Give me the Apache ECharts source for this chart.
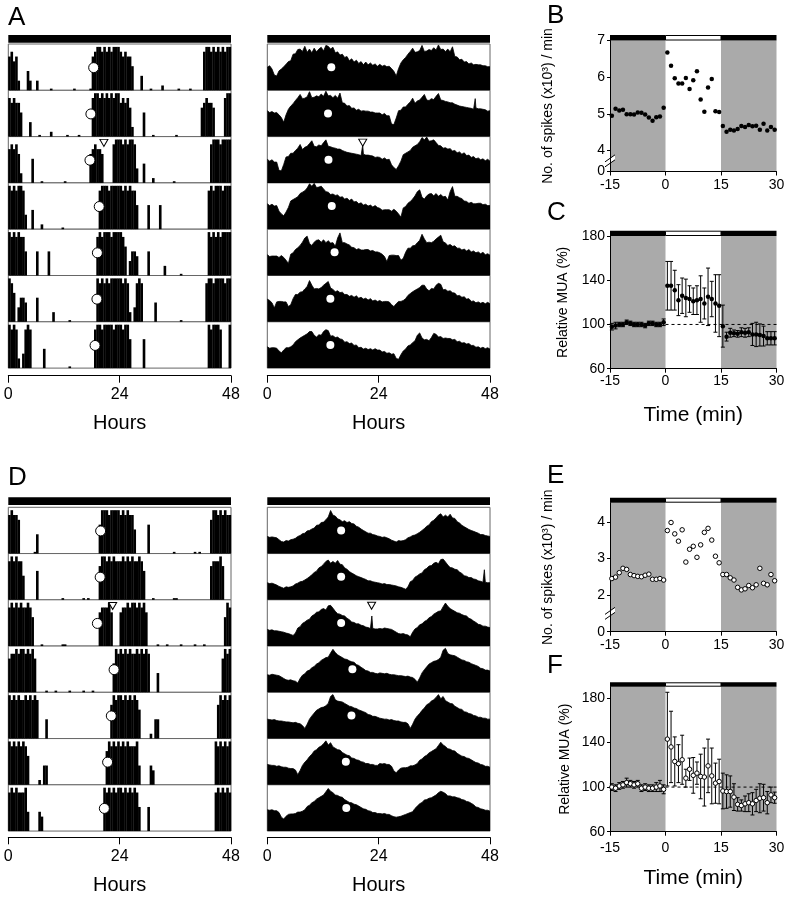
<!DOCTYPE html>
<html>
<head>
<meta charset="utf-8">
<script src="https://cdn.jsdelivr.net/npm/echarts@6.0.0/dist/echarts.min.js"></script>
<style>
html,body{margin:0;padding:0;background:#fff;}
#chart{width:789px;height:899px;}
</style>
</head>
<body>
<div id="chart"></div>
<script>
// ======================= DATA =======================
const hourTicks = [0, 24, 48];
const minuteTicks = [-15, 0, 15, 30];
const actogramLight = [[0, 48, 'dark']];
const pulseLight = [[-15, 0, 'dark'], [0, 15, 'light'], [15, 30, 'dark']];
const darkShade = [[-15, 0], [15, 30]];
const minutes = [-14.5,-13.5,-12.5,-11.5,-10.5,-9.5,-8.5,-7.5,-6.5,-5.5,-4.5,-3.5,-2.5,-1.5,-0.5,
  0.5,1.5,2.5,3.5,4.5,5.5,6.5,7.5,8.5,9.5,10.5,11.5,12.5,13.5,14.5,
  15.5,16.5,17.5,18.5,19.5,20.5,21.5,22.5,23.5,24.5,25.5,26.5,27.5,28.5,29.5];

// Panel B: spikes (x10^3)/min
const spikesB = [4.95,5.14,5.09,5.11,4.99,4.99,4.98,5.04,5.03,4.98,4.90,4.81,4.91,4.93,5.17,
  6.67,6.31,5.97,5.83,5.83,5.98,5.68,5.92,6.16,5.39,5.06,5.72,5.95,5.07,5.05,
  4.67,4.51,4.57,4.55,4.59,4.67,4.64,4.70,4.66,4.68,4.57,4.73,4.55,4.64,4.57];
// Panel C: relative MUA mean / error
const muaMeanC = [98,99,100,100,102,101,100,100,100,99,101,101,100,100,102,
  135,135,131,122,126,124,123,121,122,123,119,125,123,119,117,
  98.5,89,92.5,92,91.5,93,92.5,93,91,91,90.5,89.5,87.5,87.5,87.5];
const muaErrC = [3,3,2,2,2,2,2,2,2,2,2,2,2,2,3,
  22,22,18,14,16,17,12,12,13,21,14,26,16,26,28,
  19,4,4,3,3,4,4,4,10,11,10,9,6,6,6];
// Panel E
const spikesE = [2.45,2.49,2.61,2.73,2.70,2.56,2.53,2.51,2.50,2.54,2.57,2.43,2.43,2.45,2.41,
  3.76,3.98,3.67,3.47,3.78,2.90,3.25,3.33,3.03,3.37,3.71,3.82,3.50,3.06,2.88,
  2.56,2.56,2.47,2.41,2.21,2.14,2.17,2.26,2.20,2.28,2.73,2.32,2.28,2.56,2.39];
// Panel F
const muaMeanF = [100,99,101,102,104,103,102,103,99,100,99,99,100,101,98,
  143,136,123,121,124.5,108,116,110.5,112.5,109.5,109,119,110,103.5,105,
  96.5,96,96,91,84.5,83.5,85,86,85,88,90,90.5,86,93,90.5];
const muaErrF = [3,3,3,3,4,3,3,3,3,3,3,3,4,5,4,
  42,32,22,17,22,8,10,16,10,20,26,24,25,18,20,
  16,15,14,12,6,5,7,8,10,10,13,12,10,7,5];
const refLevel = 100;
const refSpan = [0, 30];

// Locomotor activity, 30-min bins per day (digit = level, 9 = max, '.' = trace)
const locoA = [
  "786720 004200 200000 .00000 0000.0 00000. 789989 898999",
  "878775 000300 0.0000 100000 0.0000 .00000 899898 989899",
  "787862 000050 00.000 000000 .00000 000006 787760 000899",
  "989899 830040 001000 00000. 000000 000000 000899 989999",
  "989898 850000 500005 000000 000000 000000 008989 998999",
  "986035 540000 500000 020000 00.000 000000 009898 989999",
  "989820 389800 000400 000000 00.000 000000 089989 999899",
  "989960 000060 000000 000000 000000 000000 009899 980009"
];
const locoA_onset = [18.4, 17.8, 17.6, 19.6, 19.2, 19.1, 18.7];
const pulseA = {row: 2, hour: 20.6};

const locoD = [
  "898870 00000. 400000 000000 000000 000000 000699 989999",
  "898988 500000 600000 00000. 000000 00.0.0 000799 898988",
  "898989 889860 00.000 00000. .00000 000000 000788 897000",
  "788989 989897 0000.0 00.000 00.000 00.000 .00000 000698",
  "989898 898989 800040 000000 000000 000000 000000 007989",
  "989898 986000 010440 000000 000000 000000 000000 798989",
  "898988 894000 043000 000000 000000 000000 000009 898989",
  "989898 985000 500000 000000 000000 000000 000008 989898"
];
const locoD_onset = [19.9, 19.8, 19.2, 22.8, 22.2, 21.4, 20.7];
const pulseD = {row: 2, hour: 22.5};

// SCN multi-unit activity, 30-min bins per day (% of row height)
const muaA = [
  [50,53,46,33,31,42, 46,51,56,62,64,78, 79,88,89,84,95,82, 89,81,91,83,89,93, 85,97,95,89,93,81, 83,76,78,71,73,64, 68,61,65,58,62,55, 61,55,59,54,57,52],
  [56,52,54,51,52,47, 41,31,47,59,66,71, 78,84,91,82,83,86, 97,84,85,88,86,92, 87,98,88,89,84,89, 83,94,73,72,66,67, 61,62,57,59,55,56, 55,55,53,53,51,51],
  [51,47,50,45,45,27, 26,40,56,57,64,64, 70,75,83,72,77,79, 85,91,79,78,82,80, 87,93,79,78,76,75, 73,73,70,68,66,65, 64,63,62,61,59,62, 60,60,59,58,55,56],
  [55,51,54,50,51,39, 33,29,37,47,61,64, 67,70,77,80,83,89, 98,93,99,90,91,93, 87,81,80,75,76,73, 74,69,70,65,67,62, 65,59,60,55,57,52, 54,50,52,48,51,47],
  [45,41,42,42,42,39, 43,39,33,26,46,49, 56,60,65,72,81,85, 69,65,72,76,77,72, 77,71,75,70,71,63, 81,92,71,71,68,66, 61,60,56,58,55,55, 56,56,53,54,51,51],
  [49,46,41,30,43,44, 44,43,43,33,37,50, 59,59,64,65,71,76, 89,79,71,72,71,74, 79,83,87,73,70,65, 67,63,64,59,59,55, 57,53,56,51,53,49, 51,47,50,45,47,44],
  [46,43,44,44,43,37, 33,39,44,44,46,50, 57,61,65,68,71,74, 79,79,71,67,72,71, 79,83,81,69,70,66, 67,63,62,56,57,53, 54,49,50,44,45,41, 43,40,42,39,42,39],
  [39,35,36,32,33,30, 31,21,19,29,37,41, 48,50,55,59,71,76, 65,61,62,59,66,75, 73,67,68,64,65,64, 64,61,62,57,58,54, 55,52,53,49,49,45, 46,43,45,42,44,41]
];
const muaA_onset = [13.9, 13.2, 13.3, 14.0, 14.6, 13.7, 13.7];
const muaA_spike = {day: 2, hour: 20.6, level: 82};

const muaD = [
  [37,35,36,35,34,30, 26,25,28,27,30,31, 33,37,39,43,44,49, 50,53,55,61,62,67, 68,73,79,93,83,81, 75,73,69,71,67,69, 65,64,59,57,53,50, 47,44,44,41,40,38],
  [37,35,36,34,32,29, 27,25,28,27,28,30, 34,36,39,40,43,46, 50,54,59,62,69,72, 77,83,86,79,83,79, 85,77,76,69,66,61, 58,55,52,50,48,46, 44,41,41,39,38,37],
  [36,34,35,33,33,32, 31,30,28,27,25,23, 28,39,42,49,52,56, 58,65,68,73,74,79, 81,78,87,88,82,75, 70,69,66,65,60,57, 52,51,48,48,45,44, 41,40,38,38,37,37],
  [38,37,39,38,37,36, 33,30,27,26,27,25, 24,20,30,37,40,46, 48,53,56,61,64,69, 72,75,76,85,93,86, 81,78,75,72,71,68, 66,65,60,58,54,51, 47,46,43,43,41,40],
  [42,41,40,41,39,38, 38,37,36,36,35,34, 35,33,32,28,22,31, 42,49,55,61,64,67, 68,71,76,91,95,84, 81,80,79,76,73,70, 69,66,65,62,60,58, 56,52,51,48,48,46],
  [44,43,42,42,40,41, 39,38,38,36,35,35, 32,22,31,42,49,54, 61,66,73,76,81,84, 89,95,86,91,82,79, 76,75,70,67,64,63, 58,57,54,53,50,49, 46,46,44,44,42,42],
  [46,45,46,44,44,40, 30,26,32,36,37,37, 38,41,41,43,46,53, 56,61,64,69,72,75, 78,85,92,86,83,78, 77,74,73,68,65,62, 61,58,57,54,51,48, 47,44,43,40,40,38],
  [38,37,38,36,36,33, 31,30,31,32,34,36, 38,40,42,49,54,59, 62,67,68,71,72,75, 78,83,86,84,81,76, 76,74,74,72,71,68, 67,64,63,60,57,52, 51,48,47,45,45,43]
];
const muaD_onset = [16.0, 16.0, 16.0, 18.4, 18.2, 17.0, 17.1];
const muaD_spike = {day: 2, hour: 22.55, level: 65};

// ======================= BUILD =======================
const FONT = '"Liberation Sans", Arial, Helvetica, sans-serif';
const BIN_H = 0.5; // hours per bin
const grid = [], xAxis = [], yAxis = [], series = [];
const addGrid = g => { grid.push(g); return grid.length - 1; };
const addX = a => { xAxis.push(Object.assign({show: false}, a)); return xAxis.length - 1; };
const addY = a => { yAxis.push(Object.assign({show: false}, a)); return yAxis.length - 1; };

function parseLoco(s) {
  const t = s.replace(/\s/g, '');
  if (t.length !== 48) throw new Error('locomotor day length ' + t.length + ': ' + s);
  return t.split('').map(c => c === '.' ? 0.35 : Number(c));
}
function muaPoints(day, dayIndex, offset, spike) {
  if (day.length !== 48) throw new Error('mua day length ' + day.length);
  const pts = [];
  day.forEach((v, i) => {
    const x = i * BIN_H + BIN_H / 2;
    pts.push([offset + x, v]);
    if (spike && spike.day === dayIndex && spike.hour > x && spike.hour < x + BIN_H) {
      pts.push([offset + spike.hour, spike.level]);
    }
  });
  return pts;
}

function lightBar(left, width, top, height, xmin, xmax, schedule) {
  const g = addGrid({left, width, top, height});
  const xi = addX({gridIndex: g, type: 'value', min: xmin, max: xmax});
  const yi = addY({gridIndex: g, type: 'value', min: 0, max: 1});
  series.push({
    type: 'custom', xAxisIndex: xi, yAxisIndex: yi, silent: true, z: 3, clip: false,
    data: schedule.map(s => [s[0], s[1], s[2] === 'dark' ? 1 : 0]),
    renderItem: (p, api) => {
      const a = api.coord([api.value(0), 1]);
      const b = api.coord([api.value(1), 0]);
      if (api.value(2) === 1) {
        return {type: 'rect', shape: {x: a[0], y: a[1], width: b[0] - a[0], height: b[1] - a[1]}, style: {fill: '#000'}};
      }
      return {type: 'rect', shape: {x: a[0], y: a[1] + 0.5, width: b[0] - a[0], height: b[1] - a[1] - 1},
              style: {fill: '#fff', stroke: '#000', lineWidth: 1}};
    }
  });
}

function hourAxis(left, width, axisY) {
  const g = addGrid({left, width, top: axisY - 1, height: 1});
  addX({gridIndex: g, type: 'value', min: hourTicks[0], max: hourTicks[2], interval: hourTicks[1] - hourTicks[0], show: true,
    position: 'bottom',
    axisLine: {show: true, lineStyle: {color: '#000', width: 1}},
    axisTick: {show: true, length: 7, lineStyle: {color: '#000', width: 1}},
    axisLabel: {color: '#000', fontSize: 16, fontFamily: FONT, margin: 11},
    splitLine: {show: false},
    name: 'Hours', nameLocation: 'middle', nameGap: 38,
    nameTextStyle: {color: '#000', fontSize: 20, fontFamily: FONT}});
  addY({gridIndex: g, type: 'value', min: 0, max: 1});
}

function locoActogram(left, width, top, rowH, days, onsets, pulse) {
  for (let r = 0; r < 7; r++) {
    const g = addGrid({left, width, top: top + r * rowH, height: rowH, show: true,
      borderColor: '#666', borderWidth: 1, backgroundColor: '#fff'});
    const xv = addX({gridIndex: g, type: 'value', min: 0, max: 48});
    const yi = addY({gridIndex: g, type: 'value', min: 0, max: 9.6});
    const vals = parseLoco(days[r]).concat(parseLoco(days[r + 1]));
    const binData = [];
    vals.forEach((v, i) => { if (v > 0) binData.push([i * BIN_H, (i + 1) * BIN_H, v]); });
    series.push({type: 'custom', xAxisIndex: xv, yAxisIndex: yi, data: binData, silent: true, z: 2,
      encode: {x: [0, 1], y: 2},
      renderItem: (p, api) => {
        const a = api.coord([api.value(0), api.value(2)]);
        const b = api.coord([api.value(1), 0]);
        return {type: 'rect', shape: {x: a[0] - 0.15, y: a[1], width: b[0] - a[0] + 0.3, height: b[1] - a[1]},
                style: {fill: '#000'}};
      }});
    series.push({type: 'scatter', xAxisIndex: xv, yAxisIndex: yi, data: [[onsets[r], 4.7]], silent: true,
      symbol: 'circle', symbolSize: 10, itemStyle: {color: '#fff', borderColor: '#000', borderWidth: 1, opacity: 1}, z: 5});
    if (pulse && pulse.row === r) {
      series.push({type: 'scatter', xAxisIndex: xv, yAxisIndex: yi, data: [[pulse.hour, 8.3]], silent: true,
        symbol: 'triangle', symbolRotate: 180, symbolSize: [8, 7],
        itemStyle: {color: '#fff', borderColor: '#000', borderWidth: 1, opacity: 1}, z: 6});
    }
  }
}

function muaActogram(left, width, top, rowH, days, onsets, pulse, spike) {
  for (let r = 0; r < 7; r++) {
    const g = addGrid({left, width, top: top + r * rowH, height: rowH, show: true,
      borderColor: '#666', borderWidth: 1, backgroundColor: '#fff'});
    const xv = addX({gridIndex: g, type: 'value', min: 0.25, max: 47.75});
    const yi = addY({gridIndex: g, type: 'value', min: 0, max: 100});
    const pts = muaPoints(days[r], r, 0, spike).concat(muaPoints(days[r + 1], r + 1, 24, spike));
    series.push({type: 'line', xAxisIndex: xv, yAxisIndex: yi, data: pts, silent: true, symbol: 'none',
      lineStyle: {color: '#000', width: 0.8}, areaStyle: {color: '#000', opacity: 1}, z: 2});
    series.push({type: 'scatter', xAxisIndex: xv, yAxisIndex: yi, data: [[onsets[r], 50]], silent: true,
      symbol: 'circle', symbolSize: 8, itemStyle: {color: '#fff', opacity: 1}, z: 5});
    if (pulse && pulse.row === r) {
      series.push({type: 'scatter', xAxisIndex: xv, yAxisIndex: yi, data: [[pulse.hour, 87]], silent: true,
        symbol: 'triangle', symbolRotate: 180, symbolSize: [8, 7],
        itemStyle: {color: '#fff', borderColor: '#000', borderWidth: 1, opacity: 1}, z: 6});
    }
  }
}

// ---- Actogram geometry ----
const LX = 8.3, RX = 267.3, AW = 222.7;
// A
lightBar(LX, AW, 35, 7.7, 0, 48, actogramLight);
lightBar(RX, AW, 35, 7.7, 0, 48, actogramLight);
locoActogram(LX, AW, 44, 46.3, locoA, locoA_onset, pulseA);
muaActogram(RX, AW, 44, 46.3, muaA, muaA_onset, pulseA, muaA_spike);
hourAxis(LX, AW, 375.7);
hourAxis(RX, AW, 375.7);
// D
lightBar(LX, AW, 497.3, 7.7, 0, 48, actogramLight);
lightBar(RX, AW, 497.3, 7.7, 0, 48, actogramLight);
locoActogram(LX, AW, 507.3, 46.25, locoD, locoD_onset, pulseD);
muaActogram(RX, AW, 507.3, 46.25, muaD, muaD_onset, pulseD, muaD_spike);
hourAxis(LX, AW, 837.3);
hourAxis(RX, AW, 837.3);

// ---- Data panels ----
const PL = 610, PW = 166.5;
function dataPanel(cfg) {
  lightBar(PL, PW, cfg.barTop, cfg.barH, minuteTicks[0], minuteTicks[3], pulseLight);
  const g = addGrid({left: PL, width: PW, top: cfg.top, height: cfg.height});
  const xi = addX({gridIndex: g, type: 'value', min: minuteTicks[0], max: minuteTicks[3],
    interval: minuteTicks[1] - minuteTicks[0], show: true, z: 5,
    axisLine: {show: true, onZero: false, lineStyle: {color: '#000', width: 1}},
    axisTick: {show: true, length: 4, lineStyle: {color: '#000', width: 1}},
    axisLabel: {color: '#000', fontSize: 14, fontFamily: FONT, margin: cfg.xMargin},
    splitLine: {show: false},
    name: cfg.xName || '', nameLocation: 'middle', nameGap: cfg.xNameGap || 30,
    nameTextStyle: {color: '#000', fontSize: 21, fontFamily: FONT}});
  const yi = addY({gridIndex: g, type: 'value', min: cfg.yMin, max: cfg.yMax, show: true, z: 5,
    axisLine: {show: true, onZero: false, lineStyle: {color: '#000', width: 1}},
    axisTick: {show: true, length: 3, customValues: cfg.yTicks, lineStyle: {color: '#000', width: 1}},
    axisLabel: {color: '#000', fontSize: 14, fontFamily: FONT, margin: 5, customValues: cfg.yTicks,
      formatter: cfg.yFmt || (v => String(v))},
    splitLine: {show: false},
    name: cfg.yName, nameLocation: 'middle', nameGap: cfg.yNameGap, nameRotate: 90,
    nameTextStyle: {color: '#000', fontSize: 14, fontFamily: FONT}});
  series.push({type: 'custom', xAxisIndex: xi, yAxisIndex: yi, silent: true, z: 0, data: darkShade,
    renderItem: (p, api) => {
      const a = api.coord([api.value(0), cfg.yMax]);
      const b = api.coord([api.value(1), cfg.yMin]);
      return {type: 'rect', shape: {x: a[0], y: a[1], width: b[0] - a[0], height: b[1] - a[1]}, style: {fill: '#aaaaaa'}};
    }});
  return {g, xi, yi};
}
function errorBars(xi, yi, mean, err) {
  series.push({type: 'custom', xAxisIndex: xi, yAxisIndex: yi, silent: true, z: 3,
    data: minutes.map((m, i) => [m, mean[i] - err[i], mean[i] + err[i]]),
    renderItem: (p, api) => {
      const a = api.coord([api.value(0), api.value(1)]);
      const b = api.coord([api.value(0), api.value(2)]);
      const w = 2;
      const st = {stroke: '#000', lineWidth: 1};
      return {type: 'group', children: [
        {type: 'line', shape: {x1: a[0], y1: a[1], x2: b[0], y2: b[1]}, style: st},
        {type: 'line', shape: {x1: a[0] - w, y1: a[1], x2: a[0] + w, y2: a[1]}, style: st},
        {type: 'line', shape: {x1: b[0] - w, y1: b[1], x2: b[0] + w, y2: b[1]}, style: st}
      ]};
    }});
}
function refLine(xi, yi) {
  series.push({type: 'line', xAxisIndex: xi, yAxisIndex: yi, silent: true, symbol: 'none', z: 2,
    data: [[refSpan[0], refLevel], [refSpan[1], refLevel]],
    lineStyle: {color: '#000', width: 1, type: [3, 3]}});
}
const filledDot = {symbol: 'circle', symbolSize: 4.5, itemStyle: {color: '#000', opacity: 1}};
const openDot = {symbol: 'circle', symbolSize: 4.5, itemStyle: {color: '#fff', borderColor: '#000', borderWidth: 1, opacity: 1}};

const B = dataPanel({top: 40.5, height: 131, barTop: 35, barH: 5.5, yMin: 3.43, yMax: 7,
  yTicks: [3.43, 4, 5, 6, 7], yFmt: v => (v < 3.9 ? '0' : String(Math.round(v))),
  yName: 'No. of spikes (x10³) / min', yNameGap: 55, xMargin: 7});
series.push(Object.assign({type: 'scatter', xAxisIndex: B.xi, yAxisIndex: B.yi, silent: true, z: 5,
  data: minutes.map((m, i) => [m, spikesB[i]])}, filledDot));

const C = dataPanel({top: 236, height: 132.7, barTop: 230.7, barH: 5.3, yMin: 60, yMax: 180,
  yTicks: [60, 100, 140, 180], yName: 'Relative MUA (%)', yNameGap: 40, xMargin: 5,
  xName: 'Time (min)', xNameGap: 36});
refLine(C.xi, C.yi);
errorBars(C.xi, C.yi, muaMeanC, muaErrC);
series.push(Object.assign({type: 'scatter', xAxisIndex: C.xi, yAxisIndex: C.yi, silent: true, z: 5,
  data: minutes.map((m, i) => [m, muaMeanC[i]])}, filledDot));

const E = dataPanel({top: 502.7, height: 129, barTop: 497.7, barH: 5, yMin: 1, yMax: 4.52,
  yTicks: [1, 2, 3, 4], yFmt: v => (v < 1.5 ? '0' : String(Math.round(v))),
  yName: 'No. of spikes (x10³) / min', yNameGap: 55, xMargin: 6});
series.push(Object.assign({type: 'scatter', xAxisIndex: E.xi, yAxisIndex: E.yi, silent: true, z: 5,
  data: minutes.map((m, i) => [m, spikesE[i]])}, openDot));

const F = dataPanel({top: 686.7, height: 145, barTop: 682.3, barH: 4.4, yMin: 60, yMax: 190,
  yTicks: [60, 100, 140, 180], yName: 'Relative MUA (%)', yNameGap: 38, xMargin: 9,
  xName: 'Time (min)', xNameGap: 36});
refLine(F.xi, F.yi);
errorBars(F.xi, F.yi, muaMeanF, muaErrF);
series.push(Object.assign({type: 'scatter', xAxisIndex: F.xi, yAxisIndex: F.yi, silent: true, z: 5,
  data: minutes.map((m, i) => [m, muaMeanF[i]])}, openDot));

const chart = echarts.init(document.getElementById('chart'), null, {width: 789, height: 899});
chart.setOption({animation: false, backgroundColor: '#fff', grid, xAxis, yAxis, series});

// ---- panel letters and axis-break marks ----
const letters = [['A', 8, 17.5], ['B', 547, 16], ['C', 547, 213], ['D', 8, 477.5], ['E', 547, 476], ['F', 547, 666]];
const graphic = letters.map(l => ({type: 'text', left: l[1], top: l[2] - 13, z: 10,
  style: {text: l[0], fill: '#000', font: '26px ' + FONT}}));
function breakMark(xi, yi, x, y) {
  const p = chart.convertToPixel({xAxisIndex: xi, yAxisIndex: yi}, [x, y]);
  const st = {stroke: '#000', lineWidth: 1};
  graphic.push({type: 'group', x: p[0], y: p[1], z: 20, children: [
    {type: 'polygon', shape: {points: [[-5, 1], [5, -6], [5, -1], [-5, 6]]}, style: {fill: '#fff'}},
    {type: 'line', shape: {x1: -5, y1: 1, x2: 5, y2: -6}, style: st},
    {type: 'line', shape: {x1: -5, y1: 6, x2: 5, y2: -1}, style: st}
  ]});
}
breakMark(B.xi, B.yi, -15, 3.72);
breakMark(E.xi, E.yi, -15, 1.5);
chart.setOption({graphic});
</script>
</body>
</html>
